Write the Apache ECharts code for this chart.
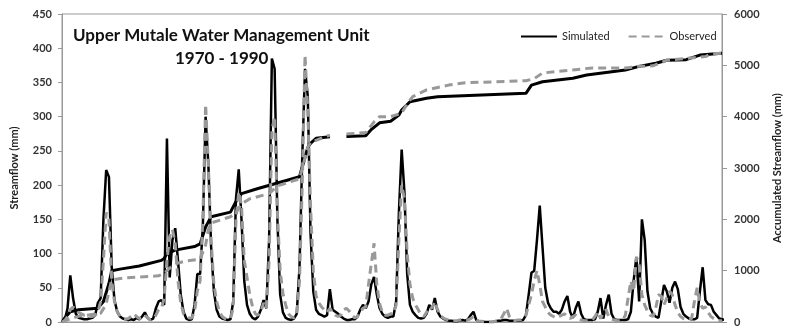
<!DOCTYPE html>
<html>
<head>
<meta charset="utf-8">
<title>Upper Mutale Water Management Unit</title>
<script src="https://cdn.jsdelivr.net/npm/echarts@6/dist/echarts.min.js"></script>
<style>
  html, body { margin: 0; padding: 0; background: #fff; }
  #chart { width: 791px; height: 328px; }
</style>
</head>
<body>
<div id="chart"></div>
<script>
// monthly streamflow (mm), 240 months, one row per year
const simulated = [
  0, 3, 20, 68, 35, 12, 6, 5, 4, 4, 5, 6,
  10, 28, 35, 150, 222, 212, 80, 32, 15, 8, 5, 4,
  3, 4, 3, 6, 4, 8, 14, 6, 3, 5, 20, 30,
  32, 25, 268, 65, 120, 137, 90, 40, 15, 5, 3, 4,
  25, 70, 70, 140, 300, 230, 110, 45, 18, 8, 5, 4,
  3, 4, 30, 180, 223, 150, 60, 25, 12, 6, 4, 8,
  18, 32, 20, 120, 385, 370, 150, 40, 14, 6, 4, 3,
  5, 12, 80, 240, 370, 330, 130, 45, 18, 12, 10, 8,
  10, 48, 18, 15, 12, 8, 5, 3, 3, 4, 4, 8,
  18, 25, 20, 30, 55, 66, 40, 20, 12, 8, 6, 8,
  8, 30, 160, 252, 190, 70, 25, 15, 10, 6, 5, 6,
  12, 25, 18, 35, 15, 8, 5, 3, 2, 2, 1, 1,
  2, 3, 2, 4, 10, 15, 3, 1, 1, 0, 0, 0,
  0, 1, 2, 2, 3, 3, 2, 2, 2, 2, 2, 3,
  10, 40, 72, 75, 120, 170, 110, 50, 28, 20, 15, 15,
  12, 18, 30, 38, 15, 6, 20, 30, 12, 4, 3, 3,
  3, 4, 15, 35, 5, 25, 40, 12, 4, 3, 3, 3,
  3, 4, 15, 60, 95, 30, 150, 120, 45, 20, 12, 8,
  6, 30, 54, 45, 28, 50, 59, 48, 22, 12, 8, 5,
  4, 4, 6, 45, 80, 32, 26, 25, 15, 10, 5, 4, 3, 3
]
const observed = [
  0, 2, 8, 18, 22, 18, 14, 12, 10, 10, 8, 8,
  10, 14, 30, 90, 160, 150, 60, 30, 15, 8, 5, 4,
  5, 8, 12, 8, 5, 6, 10, 6, 3, 4, 10, 18,
  20, 35, 90, 125, 135, 115, 60, 28, 12, 8, 6, 6,
  15, 45, 60, 150, 318, 230, 120, 55, 30, 15, 8, 5,
  4, 5, 20, 150, 190, 170, 90, 65, 40, 22, 12, 10,
  15, 28, 20, 90, 280, 300, 160, 75, 42, 25, 12, 8,
  6, 10, 60, 200, 390, 310, 170, 75, 38, 28, 22, 18,
  14, 20, 14, 10, 8, 10, 18, 20, 16, 10, 6, 8,
  15, 20, 22, 55, 85, 115, 55, 27, 14, 10, 10, 12,
  12, 25, 120, 200, 180, 100, 55, 35, 25, 18, 10, 8,
  14, 22, 20, 30, 18, 10, 6, 4, 3, 2, 2, 2,
  3, 4, 3, 3, 5, 8, 3, 1, 1, 0, 0, 0,
  0, 1, 3, 5, 12, 20, 8, 3, 2, 3, 3, 5,
  10, 25, 40, 60, 75, 55, 30, 22, 14, 10, 8, 6,
  8, 10, 12, 8, 5, 8, 10, 6, 3, 2, 2, 2,
  3, 8, 15, 5, 12, 18, 8, 4, 3, 2, 2, 3,
  10, 35, 60, 45, 95, 85, 40, 25, 16, 10, 8, 20,
  40, 38, 25, 35, 45, 40, 25, 14, 8, 5, 4, 4,
  5, 30, 50, 28, 20, 22, 14, 8, 5, 3, 2, 2
]

// accumulated streamflow (mm): [month, value], null = no data
const accumSimulated = [
  [0, 0], [1, 80], [3, 200], [6, 240], [13, 270], [15, 400], [17, 750], [18, 1000],
  [21, 1030], [28, 1090], [36, 1200], [37, 1240], [38, 1330], [41, 1400], [48, 1470],
  [50, 1520], [52, 1850], [54, 2050], [61, 2140], [63, 2350], [65, 2500], [71, 2600],
  [86, 2830], [89, 3400], [90, 3480], [92, 3580], [97, 3610], null,
  [103, 3615], [110, 3630], [112, 3750], [115, 3880], [119, 3910], [122, 4030],
  [123, 4130], [126, 4290], [132, 4360], [136, 4390], [168, 4455], [170, 4615],
  [174, 4680], [185, 4750], [190, 4810], [204, 4910], [209, 4980], [215, 5040],
  [219, 5100], [226, 5110], [231, 5200], [239, 5235]
]
const accumObserved = [
  [0, 0], [3, 60], [6, 110], [14, 170], [16, 350], [17, 600], [18, 820], [23, 860],
  [35, 900], [37, 950], [39, 1050], [42, 1150], [45, 1190], [50, 1220], [52, 1500],
  [53, 1800], [54, 1930], [61, 2050], [63, 2130], [65, 2300], [68, 2400], [75, 2500],
  [78, 2650], [86, 2790], [89, 3400], [90, 3500], [97, 3640], null,
  [103, 3660], [110, 3690], [113, 3900], [115, 4000], [119, 4000], [123, 4070],
  [125, 4250], [127, 4390], [132, 4520], [140, 4615], [146, 4660], [168, 4700],
  [171, 4740], [174, 4850], [192, 4950], [204, 4950], [209, 4980], [214, 4990],
  [219, 5100], [233, 5170], [235, 5225], [239, 5235]
]

const FONT = 'Lato'
const GRAY = '#999999'

const chart = echarts.init(document.getElementById('chart'), null, { renderer: 'canvas' })

const toPairs = arr => arr.map((v, i) => [i, v])

chart.setOption({
  animation: false,
  backgroundColor: '#fff',
  textStyle: { fontFamily: FONT },
  title: [
    {
      text: 'Upper Mutale Water Management Unit',
      left: 68, top: 22,
      textStyle: { fontFamily: FONT, fontSize: 17, fontWeight: 'bold', color: '#111' }
    },
    {
      text: '1970 - 1990',
      left: 170, top: 45,
      textStyle: { fontFamily: FONT, fontSize: 17, fontWeight: 'bold', color: '#111' }
    }
  ],
  legend: {
    data: ['Simulated', 'Observed'],
    left: 515, top: 26,
    itemWidth: 36, itemHeight: 12, itemGap: 18,
    itemStyle: { opacity: 0 },
    textStyle: { fontFamily: FONT, fontSize: 11, color: '#222' }
  },
  grid: {
    left: 62, right: 64, top: 14, bottom: 6,
    show: true, borderColor: GRAY, borderWidth: 1
  },
  xAxis: {
    type: 'value', min: 0, max: 239,
    axisLine: { show: true, lineStyle: { color: GRAY } },
    axisTick: { show: false }, axisLabel: { show: false }, splitLine: { show: false }
  },
  yAxis: [
    {
      type: 'value', min: 0, max: 450, interval: 50,
      name: 'Streamflow (mm)', nameLocation: 'middle', nameGap: 42, nameRotate: 90,
      nameTextStyle: { fontFamily: FONT, fontSize: 11, fontWeight: 'bold', color: '#222' },
      axisLine: { show: true, lineStyle: { color: GRAY } },
      axisTick: { show: true, length: 4, lineStyle: { color: GRAY } },
      axisLabel: { fontFamily: FONT, fontSize: 11, fontWeight: 'bold', color: '#333', margin: 10 },
      splitLine: { show: false }
    },
    {
      type: 'value', min: 0, max: 6000, interval: 1000, position: 'right',
      name: 'Accumulated Streamflow (mm)', nameLocation: 'middle', nameGap: 50, nameRotate: 90,
      nameTextStyle: { fontFamily: FONT, fontSize: 11, fontWeight: 'bold', color: '#222' },
      axisLine: { show: true, lineStyle: { color: GRAY } },
      axisTick: { show: true, length: 5, lineStyle: { color: GRAY } },
      axisLabel: {
        fontFamily: FONT, fontSize: 11, fontWeight: 'bold', color: '#333', margin: 12,
        formatter: v => String(v)
      },
      splitLine: { show: false }
    }
  ],
  series: [
    {
      name: 'Simulated', type: 'line', yAxisIndex: 0, symbol: 'none',
      data: toPairs(simulated),
      lineStyle: { color: '#000', width: 2.5 }, itemStyle: { color: '#000' }
    },
    {
      name: 'Simulated', type: 'line', yAxisIndex: 1, symbol: 'none',
      data: accumSimulated,
      lineStyle: { color: '#000', width: 3 }, itemStyle: { color: '#000' }
    },
    {
      name: 'Observed', type: 'line', yAxisIndex: 0, symbol: 'none',
      data: toPairs(observed),
      lineStyle: { color: GRAY, width: 3, type: [8, 5] }, itemStyle: { color: GRAY }
    },
    {
      name: 'Observed', type: 'line', yAxisIndex: 1, symbol: 'none',
      data: accumObserved,
      lineStyle: { color: GRAY, width: 3, type: [8, 5] }, itemStyle: { color: GRAY }
    }
  ]
})
</script>
</body>
</html>
